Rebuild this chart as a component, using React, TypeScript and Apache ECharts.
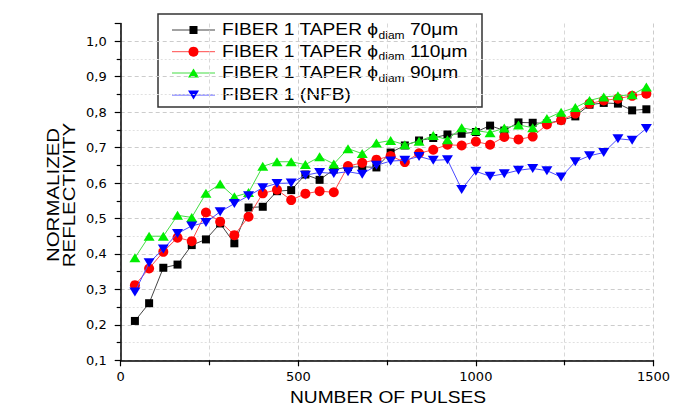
import React, { useEffect, useRef } from "react";
import * as echarts from "echarts";

const pulses = [40, 80, 120, 160, 200, 240, 280, 320, 360, 400, 440, 480, 520, 560, 600, 640, 680, 720, 760, 800, 840, 880, 920, 960, 1000, 1040, 1080, 1120, 1160, 1200, 1240, 1280, 1320, 1360, 1400, 1440, 1480];

const taper70 = [0.211, 0.261, 0.361, 0.37, 0.425, 0.441, 0.486, 0.43, 0.531, 0.533, 0.577, 0.58, 0.624, 0.609, 0.638, 0.645, 0.646, 0.644, 0.686, 0.706, 0.72, 0.727, 0.737, 0.739, 0.744, 0.762, 0.748, 0.771, 0.77, 0.768, 0.777, 0.788, 0.821, 0.826, 0.824, 0.805, 0.808];
const taper110 = [0.312, 0.359, 0.406, 0.446, 0.436, 0.517, 0.491, 0.453, 0.505, 0.571, 0.581, 0.552, 0.57, 0.577, 0.574, 0.648, 0.657, 0.666, 0.676, 0.659, 0.684, 0.694, 0.708, 0.706, 0.717, 0.708, 0.73, 0.723, 0.731, 0.765, 0.777, 0.796, 0.824, 0.833, 0.838, 0.846, 0.852];
const taper90 = [0.389, 0.45, 0.45, 0.509, 0.503, 0.571, 0.597, 0.561, 0.573, 0.647, 0.66, 0.66, 0.652, 0.674, 0.654, 0.697, 0.683, 0.713, 0.72, 0.708, 0.718, 0.734, 0.722, 0.756, 0.748, 0.742, 0.755, 0.764, 0.756, 0.782, 0.8, 0.813, 0.833, 0.843, 0.846, 0.849, 0.871];
const nfb = [0.293, 0.375, 0.414, 0.458, 0.479, 0.489, 0.519, 0.542, 0.564, 0.587, 0.599, 0.6, 0.622, 0.63, 0.627, 0.632, 0.625, 0.65, 0.662, 0.664, 0.675, 0.664, 0.666, 0.582, 0.633, 0.619, 0.626, 0.636, 0.641, 0.635, 0.617, 0.66, 0.677, 0.686, 0.725, 0.721, 0.754];

const seriesNames = [
  "FIBER 1 TAPER \u03D5diam 70\u03BCm",
  "FIBER 1 TAPER \u03D5diam 110\u03BCm",
  "FIBER 1 TAPER \u03D5diam 90\u03BCm",
  "FIBER 1 (NFB)",
];
const legendTexts = [
  "FIBER 1 TAPER \u03D5{sub|diam} 70\u03BCm",
  "FIBER 1 TAPER \u03D5{sub|diam} 110\u03BCm",
  "FIBER 1 TAPER \u03D5{sub|diam} 90\u03BCm",
  "FIBER 1 (NFB)",
];
const markerColors = ["#000000", "#ff0000", "#00ee00", "#0000ff"];
const lineColors = ["#444444", "#ff4a4a", "#44dd44", "#4a4aff"];
const xAxisName = "NUMBER OF PULSES";
const yAxisName = "NORMALIZED\nREFLECTIVITY";

const seriesData = [taper70, taper110, taper90, nfb];
const FONT = "'Liberation Sans', Arial, sans-serif";

export default function App() {
  const ref = useRef<HTMLDivElement>(null);
  useEffect(() => {
    if (!ref.current) return;
    const chart = echarts.init(ref.current, undefined, { renderer: "svg" });

    const symbols: any[] = ["rect", "circle", "triangle", "triangle"];
    const sizes: any[] = [8, 10, [11, 9], [11, 9]];
    const rotates = [0, 0, 0, 180];

    const series = seriesData.map((vals, i) => ({
      name: seriesNames[i],
      type: "line",
      data: pulses.map((p, j) => [p, vals[j]]),
      symbol: symbols[i],
      symbolSize: sizes[i],
      symbolRotate: rotates[i],
      showAllSymbol: true,
      itemStyle: { color: markerColors[i], opacity: 1 },
      lineStyle: { color: lineColors[i], width: 1 },
      z: 2 + i,
    }));

    const rowY = [30, 51.7, 73, 95];
    const legendEls: any[] = [
      {
        type: "rect",
        shape: { x: 158, y: 14, width: 324, height: 93 },
        style: { fill: "#ffffff", stroke: "#333333", lineWidth: 1.5 },
      },
    ];
    rowY.forEach((ry, i) => {
      legendEls.push({
        type: "line",
        shape: { x1: 172, y1: ry, x2: 215, y2: ry },
        style: { stroke: lineColors[i], lineWidth: 1 },
      });
      const cx = 193.5;
      if (i === 0) {
        legendEls.push({ type: "rect", shape: { x: cx - 4, y: ry - 4, width: 8, height: 8 }, style: { fill: markerColors[i] } });
      } else if (i === 1) {
        legendEls.push({ type: "circle", shape: { cx, cy: ry, r: 5 }, style: { fill: markerColors[i] } });
      } else if (i === 2) {
        legendEls.push({ type: "polygon", shape: { points: [[cx - 5.5, ry + 4.5], [cx + 5.5, ry + 4.5], [cx, ry - 4.5]] }, style: { fill: markerColors[i] } });
      } else {
        legendEls.push({ type: "polygon", shape: { points: [[cx - 5.5, ry - 4.5], [cx + 5.5, ry - 4.5], [cx, ry + 4.5]] }, style: { fill: markerColors[i] } });
      }
      legendEls.push({
        type: "text",
        x: 222,
        y: ry,
        scaleX: 1.2,
        style: {
          text: legendTexts[i],
          x: 0,
          y: 0,
          fill: "#000",
          fontSize: 16,
          fontFamily: FONT,
          lineHeight: 20,
          verticalAlign: "middle",
          align: "left",
          rich: {
            sub: { fontSize: 10, fontFamily: FONT, lineHeight: 10, verticalAlign: "bottom", fill: "#000" },
          },
        },
      });
    });

    const option: any = {
      animation: false,
      backgroundColor: "#ffffff",
      grid: { left: 120.7, right: 16.5, top: 23.5, bottom: 48.7, containLabel: false },
      xAxis: {
        type: "value",
        min: 0,
        max: 1500,
        interval: 500,
        axisLine: { show: true, onZero: false, lineStyle: { color: "#000", width: 1.5 } },
        axisTick: { show: true, length: 6, lineStyle: { color: "#000", width: 1.2 } },
        minorTick: { show: true, splitNumber: 2, length: 5, lineStyle: { color: "#000", width: 1.2 } },
        axisLabel: {
          color: "#000",
          fontSize: 13,
          fontFamily: "'DejaVu Sans', sans-serif",
          margin: 10,
          formatter: (v: number) => String(Math.round(v)),
        },
        splitLine: { show: true, lineStyle: { color: "#cccccc", type: [4, 3], width: 1 } },
        minorSplitLine: { show: true, lineStyle: { color: "#d8d8d8", type: [4, 3], width: 1 } },
      },
      yAxis: {
        type: "value",
        min: 0.1,
        max: 1.05,
        interval: 0.1,
        axisLine: { show: true, onZero: false, lineStyle: { color: "#000", width: 1.5 } },
        axisTick: { show: true, length: 6, lineStyle: { color: "#000", width: 1.2 } },
        minorTick: { show: true, splitNumber: 2, length: 4, lineStyle: { color: "#000", width: 1.2 } },
        axisLabel: {
          color: "#000",
          fontSize: 13,
          fontFamily: "'DejaVu Sans', sans-serif",
          margin: 14,
          formatter: (v: number) => (v > 1.001 ? "" : v.toFixed(1).replace(".", ",")),
        },
        splitLine: { show: true, showMaxLine: false, lineStyle: { color: "#cccccc", type: [4, 3], width: 1 } },
        minorSplitLine: { show: true, lineStyle: { color: "#e0e0e0", type: [2, 2], width: 1 } },
      },
      series,
      graphic: [
        {
          type: "text",
          x: 388,
          y: 398,
          scaleX: 1.2,
          style: { text: xAxisName, x: 0, y: 0, fill: "#000", fontSize: 16, fontFamily: FONT, align: "center", verticalAlign: "middle" },
        },
        {
          type: "text",
          x: 61.5,
          y: 195,
          rotation: Math.PI / 2,
          scaleX: 1.28,
          style: { text: yAxisName, x: 0, y: 0, fill: "#000", fontSize: 16, fontFamily: FONT, lineHeight: 15.5, align: "center", verticalAlign: "middle" },
        },
        { type: "group", z: 100, children: legendEls },
      ],
    };
    chart.setOption(option);
    return () => chart.dispose();
  }, []);
  return <div ref={ref} style={{ position: "fixed", left: 0, top: 0, width: 673, height: 409 }} />;
}
